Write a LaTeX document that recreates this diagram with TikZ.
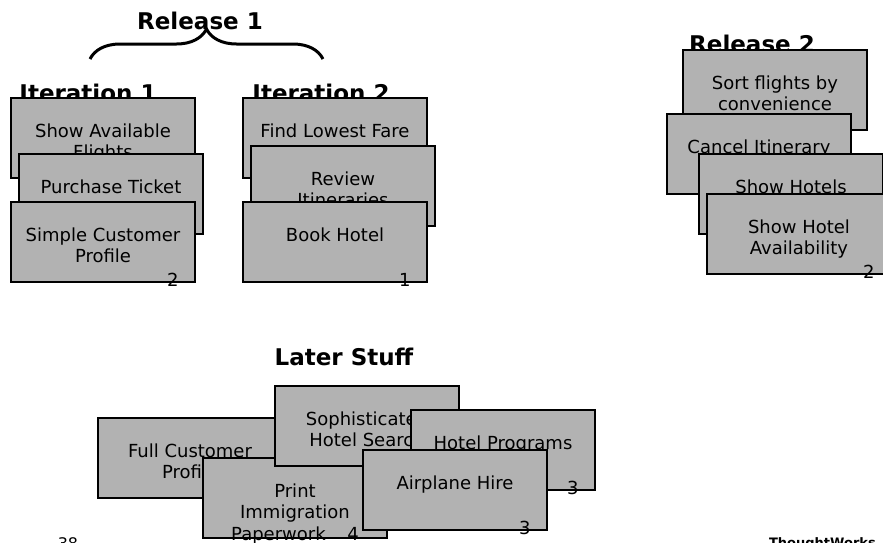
\documentclass[tikz,border=0pt]{standalone}
\usepackage{fontspec}
\setmainfont{DejaVu Sans}
\usetikzlibrary{decorations.pathreplacing}
\definecolor{cardgray}{RGB}{178,178,178}
% story card text hangs from the top edge of the card
\newcommand{\cardtext}[1]{\parbox[c][80pt][t]{184pt}{\centering\rule{0pt}{39pt}#1}}

\begin{document}
\begin{tikzpicture}
  [x=1pt,y=-1pt,
   card/.style={draw,fill=cardgray,line width=1.8pt,minimum width=184pt,minimum height=80pt,
     inner sep=0pt,font=\fontsize{18}{21.5}\selectfont},
   heading/.style={anchor=base,inner sep=0pt,font=\fontsize{23}{27}\selectfont\bfseries},
   est/.style={inner sep=0pt,font=\fontsize{18}{20}\selectfont}]
  \useasboundingbox (0,0) rectangle (883,542);
  \clip (0,0) rectangle (883,542);

  % release 1
  \node[heading] (rel1) at (200,29) {Release 1};
  \coordinate (bl) at (90,59);
  \coordinate (br) at (323,59);
  \draw[decorate,decoration={brace,amplitude=30pt},line width=3pt] (bl) -- (br);

  \node[heading] (it1) at (88,101) {Iteration 1};
  \node[card] (flights) at (103,138) {\cardtext{Show Available\\Flights}};
  \node[card] (ticket) at (111,194) {\cardtext{Purchase Ticket}};
  \node[card] (profile) at (103,242) {\cardtext{Simple Customer\\Profile}};
  \node[est] (e1) at ([xshift=-23pt,yshift=3pt]profile.south east) {2};

  \node[heading] (it2) at (321,101) {Iteration 2};
  \node[card] (fare) at (335,138) {\cardtext{Find Lowest Fare}};
  \node[card] (review) at (343,186) {\cardtext{Review\\Itineraries}};
  \node[card] (hotel) at (335,242) {\cardtext{Book Hotel}};
  \node[est] (e2) at ([xshift=-23pt,yshift=3pt]hotel.south east) {1};

  % release 2
  \node[heading] (rel2) at (752,52) {Release 2};
  \node[card] (sort) at (775,90) {\cardtext{Sort flights by\\convenience}};
  \node[card] (cancel) at (759,154) {\cardtext{Cancel Itinerary}};
  \node[card] (hotels) at (791,194) {\cardtext{Show Hotels}};
  \node[card] (avail) at (799,234) {\cardtext{Show Hotel\\Availability}};
  \node[est] (e3) at ([xshift=-23pt,yshift=3pt]avail.south east) {2};

  % later stuff
  \node[heading] (later) at (344,365) {Later Stuff};
  \node[card] (full) at (190,458) {\cardtext{Full Customer\\Profile}};
  \node[card] (immig) at (295,498) {\cardtext{Print\\Immigration\\Paperwork\hspace{1.2em}4}};
  \node[card] (search) at (367,426) {\cardtext{Sophisticated\\Hotel Search}};
  \node[card] (programs) at (503,450) {\cardtext{Hotel Programs}};
  \node[est] (e5) at ([xshift=-23pt,yshift=3pt]programs.south east) {3};
  \node[card] (plane) at (455,490) {\cardtext{Airplane Hire}};
  \node[est] (e6) at ([xshift=-23pt,yshift=3pt]plane.south east) {3};

  % footer
  \node[anchor=north,inner sep=0pt,font=\fontsize{16}{18}\selectfont] (slide) at (68,537) {38};
  \node[anchor=north east,inner sep=0pt,font=\fontsize{13}{15}\selectfont\bfseries] (logo) at (876,537) {ThoughtWorks};
\end{tikzpicture}
\end{document}
